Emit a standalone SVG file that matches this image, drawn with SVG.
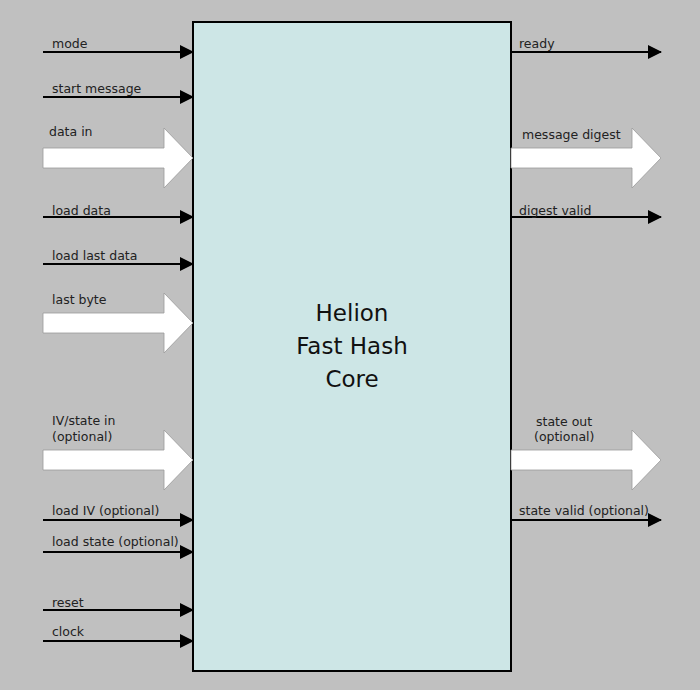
<svg xmlns="http://www.w3.org/2000/svg" width="700" height="690" viewBox="0 0 700 690">
<style>
text{font-family:"DejaVu Sans",Verdana,sans-serif;font-size:12.5px;fill:#222}
.t{font-size:23px;text-anchor:middle;fill:#111}
.l{stroke:#000;stroke-width:2;fill:none;marker-end:url(#a)}
.w{fill:#fff;stroke:#999;stroke-width:0.8}
</style>
<defs><marker id="a" markerWidth="14" markerHeight="14" refX="13" refY="7" orient="auto" markerUnits="userSpaceOnUse"><path d="M0,0 L14,7 L0,14 z" fill="#000"/></marker></defs>
<rect width="700" height="690" fill="#c0c0c0"/>
<g id="core"><rect x="193" y="22" width="318" height="649" fill="#cde6e6" stroke="#000" stroke-width="2"/>
<text class="t" x="352" y="321">Helion</text><text class="t" x="352" y="354">Fast Hash</text><text class="t" x="352" y="387">Core</text></g>
<g id="connectors">
<path class="l" d="M43,52H193"/><path class="l" d="M43,97H193"/><path class="l" d="M43,217H193"/><path class="l" d="M43,264H193"/>
<path class="l" d="M43,520H193"/><path class="l" d="M43,552H193"/><path class="l" d="M43,610H193"/><path class="l" d="M43,641H193"/>
<path class="l" d="M511,52H661"/><path class="l" d="M511,217H661"/><path class="l" d="M511,520H661"/>
<path class="w" d="M43,148H164V128L193,158L164,188V168H43Z"/>
<path class="w" d="M43,313H164V293L193,323L164,353V333H43Z"/>
<path class="w" d="M43,450H164V430L193,460L164,490V470H43Z"/>
<path class="w" d="M511,148H632V128L661,158L632,188V168H511Z"/>
<path class="w" d="M511,450H632V430L661,460L632,490V470H511Z"/>
</g>
<g id="labels">
<text x="52" y="48">mode</text><text x="52" y="93">start message</text><text x="49" y="136">data in</text>
<text x="52" y="215">load data</text><text x="52" y="260">load last data</text><text x="52" y="304">last byte</text>
<text x="52" y="425">IV/state in</text><text x="52" y="441">(optional)</text>
<text x="52" y="515">load IV (optional)</text><text x="52" y="546">load state (optional)</text>
<text x="52" y="607">reset</text><text x="52" y="636">clock</text>
<text x="519" y="48">ready</text><text x="522" y="139">message digest</text><text x="519" y="215">digest valid</text>
<text x="536" y="426">state out</text><text x="534" y="441">(optional)</text><text x="519" y="515">state valid (optional)</text>
</g>
</svg>
